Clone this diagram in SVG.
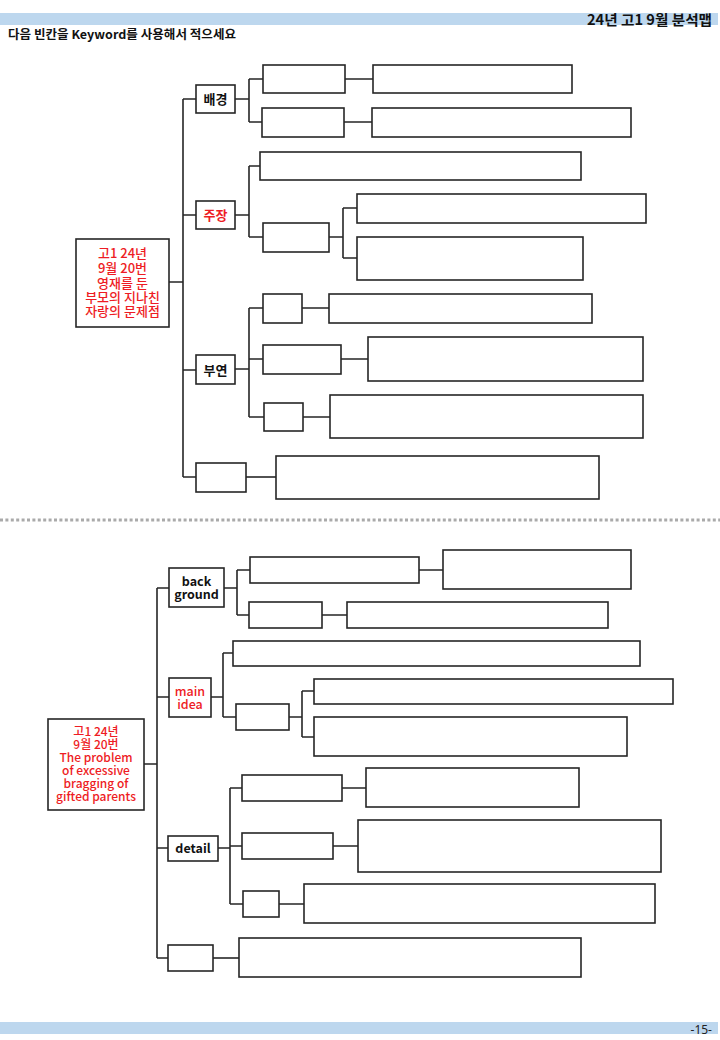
<svg xmlns="http://www.w3.org/2000/svg" width="720" height="1040" viewBox="0 0 720 1040">
<style>
.b{fill:#fff;stroke:#262626;stroke-width:1.6}
.c{fill:none;stroke:#262626;stroke-width:1.6}
.t{font-family:"Noto Sans CJK KR","Noto Sans",sans-serif;font-weight:bold;text-anchor:middle}
.m{font-weight:500}
.k{fill:#111}
.r{fill:#ee1c24}
</style>
<rect width="720" height="1040" fill="#fff"/>
<rect x="0" y="13" width="718" height="12" fill="#bdd7ee"/>
<text x="712" y="24.5" font-family="'Noto Sans CJK KR',sans-serif" font-weight="bold" font-size="14" text-anchor="end" fill="#111" textLength="125" lengthAdjust="spacingAndGlyphs">24년 고1 9월 분석맵</text>
<text x="8" y="39" font-family="'Noto Sans CJK KR',sans-serif" font-weight="bold" font-size="12" fill="#111" textLength="228" lengthAdjust="spacingAndGlyphs">다음 빈칸을 Keyword를 사용해서 적으세요</text>
<line x1="0" y1="520" x2="720" y2="520" stroke="#aaa" stroke-width="3" stroke-dasharray="3 2.4"/>
<rect x="0" y="1022" width="718" height="12" fill="#bdd7ee"/>
<text x="712" y="1034" font-family="'Noto Sans',sans-serif" font-size="12" text-anchor="end" fill="#222">-15-</text>

<g id="connectors">
<path class="c" d="M169 282H183M183 99V477M183 99H196M183 215H196M183 370H196M183 477H196"/>
<path class="c" d="M235 99H249M249 79V122M249 79H263M249 122H262M345 79H373M344 122H372"/>
<path class="c" d="M235 215H249M249 166V237M249 166H260M249 237H263M329 237H343M343 208V258M343 208H357M343 258H357"/>
<path class="c" d="M235 369H249M249 308V417M249 308H263M249 359H263M249 417H264M302 308H329M341 359H368M303 417H330"/>
<path class="c" d="M246 477H276"/>
<path class="c" d="M144 764H157M157 588V958M157 588H169M157 697H169M157 848H168M157 958H168"/>
<path class="c" d="M224 588H237M237 570V615M237 570H250M237 615H249M419 570H443M322 615H347"/>
<path class="c" d="M211 697H223M223 653V717M223 653H233M223 717H236M289 717H302M302 691V737M302 691H314M302 737H314"/>
<path class="c" d="M218 848H230M230 788V904M230 788H242M230 846H242M230 904H243M342 788H366M333 846H358M279 904H304"/>
<path class="c" d="M213 958H239"/>
</g>

<g id="root1">
<rect class="b" x="76" y="239" width="93" height="88"/>
<text class="t m r" font-size="13"><tspan x="122.5" y="258">고1 24년</tspan><tspan x="122.5" y="273">9월 20번</tspan><tspan x="122.5" y="288">영재를 둔</tspan><tspan x="122.5" y="302">부모의 지나친</tspan><tspan x="122.5" y="316">자랑의 문제점</tspan></text>
</g>
<g id="bg1">
<rect class="b" x="196" y="85" width="39" height="28"/>
<text class="t k" x="215.5" y="104" font-size="13">배경</text>
<rect class="b" x="263" y="65" width="82" height="28"/>
<rect class="b" x="262" y="108" width="82" height="29"/>
<rect class="b" x="373" y="65" width="199" height="28"/>
<rect class="b" x="372" y="108" width="259" height="29"/>
</g>
<g id="main1">
<rect class="b" x="196" y="201" width="39" height="28"/>
<text class="t r" x="215.5" y="220" font-size="13">주장</text>
<rect class="b" x="260" y="152" width="321" height="28"/>
<rect class="b" x="263" y="223" width="66" height="29"/>
<rect class="b" x="357" y="194" width="289" height="29"/>
<rect class="b" x="357" y="237" width="226" height="43"/>
</g>
<g id="detail1">
<rect class="b" x="196" y="355" width="39" height="29"/>
<text class="t k" x="215.5" y="374.5" font-size="13">부연</text>
<rect class="b" x="263" y="294" width="39" height="29"/>
<rect class="b" x="263" y="345" width="78" height="29"/>
<rect class="b" x="264" y="403" width="39" height="28"/>
<rect class="b" x="329" y="294" width="263" height="29"/>
<rect class="b" x="368" y="337" width="275" height="44"/>
<rect class="b" x="330" y="395" width="313" height="43"/>
</g>
<g id="concl1">
<rect class="b" x="196" y="463" width="50" height="29"/>
<rect class="b" x="276" y="456" width="323" height="43"/>
</g>

<g id="root2">
<rect class="b" x="48" y="719" width="96" height="91"/>
<text class="t m r" font-size="12"><tspan x="96" y="736">고1 24년</tspan><tspan x="96" y="749">9월 20번</tspan><tspan x="96" y="762">The problem</tspan><tspan x="96" y="775">of excessive</tspan><tspan x="96" y="788">bragging of</tspan><tspan x="96" y="801">gifted parents</tspan></text>
</g>
<g id="bg2">
<rect class="b" x="169" y="568" width="55" height="39"/>
<text class="t k" font-size="12.5"><tspan x="196.5" y="586">back</tspan><tspan x="196.5" y="599">ground</tspan></text>
<rect class="b" x="250" y="557" width="169" height="26"/>
<rect class="b" x="249" y="602" width="73" height="26"/>
<rect class="b" x="443" y="550" width="188" height="39"/>
<rect class="b" x="347" y="602" width="261" height="26"/>
</g>
<g id="main2">
<rect class="b" x="169" y="678" width="42" height="39"/>
<text class="t m r" font-size="12.5"><tspan x="190" y="696">main</tspan><tspan x="190" y="709">idea</tspan></text>
<rect class="b" x="233" y="641" width="407" height="25"/>
<rect class="b" x="236" y="704" width="53" height="26"/>
<rect class="b" x="314" y="679" width="359" height="25"/>
<rect class="b" x="314" y="717" width="313" height="39"/>
</g>
<g id="detail2">
<rect class="b" x="168" y="836" width="50" height="25"/>
<text class="t k" x="193" y="852.5" font-size="12.5">detail</text>
<rect class="b" x="242" y="775" width="100" height="26"/>
<rect class="b" x="242" y="833" width="91" height="26"/>
<rect class="b" x="243" y="891" width="36" height="26"/>
<rect class="b" x="366" y="768" width="213" height="39"/>
<rect class="b" x="358" y="820" width="303" height="52"/>
<rect class="b" x="304" y="884" width="351" height="39"/>
</g>
<g id="concl2">
<rect class="b" x="168" y="945" width="45" height="26"/>
<rect class="b" x="239" y="938" width="342" height="39"/>
</g>
</svg>
